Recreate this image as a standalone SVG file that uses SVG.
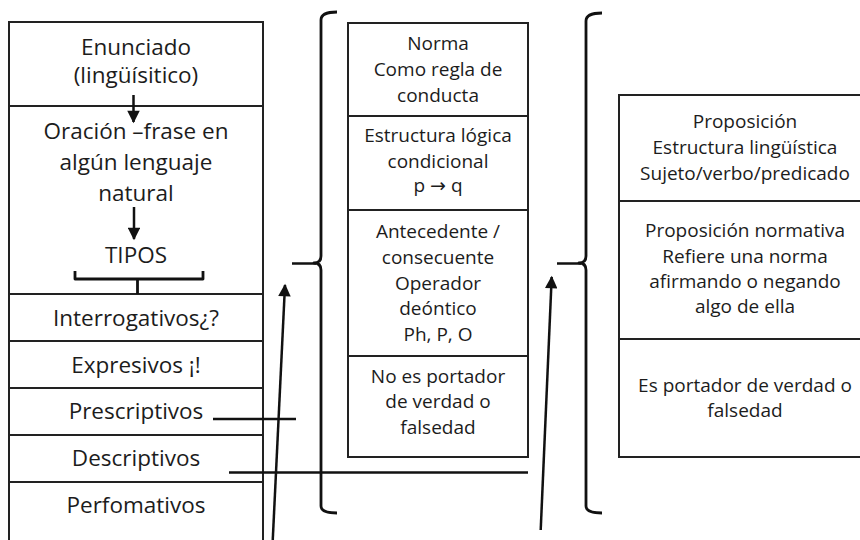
<svg xmlns="http://www.w3.org/2000/svg" width="860" height="540" viewBox="0 0 860 540">
<defs>
<style>
.box{fill:none;stroke:#222;stroke-width:2}
.ln{fill:none;stroke:#111;stroke-width:2.5}
.br{fill:none;stroke:#111;stroke-width:2.8;stroke-linejoin:round}
text{font-family:"Open Sans","Liberation Sans",sans-serif;fill:#1c1c1c;text-anchor:middle}
.l{font-size:22.5px}
.m{font-size:19px}
.arw{font-family:"DejaVu Sans",sans-serif}
</style>
<marker id="ah" viewBox="0 0 10 10" refX="9" refY="5" markerWidth="5.5" markerHeight="5" orient="auto" markerUnits="strokeWidth">
<path d="M0,0 L10,5 L0,10 z" fill="#111"/>
</marker>
</defs>
<rect width="860" height="540" fill="#fff"/>

<g id="left-column">
<path class="box" d="M9,545 V22 H263 V545"/>
<g id="enunciado">
<text class="l" x="136" y="55">Enunciado</text>
<text class="l" x="136" y="83">(lingüísitico)</text>
</g>
<path class="box" d="M9,106 H263"/>
<g id="oracion">
<text class="l" x="136" y="139">Oración –frase en</text>
<text class="l" x="136" y="170">algún lenguaje</text>
<text class="l" x="136" y="201">natural</text>
<text class="l" x="136" y="263">TIPOS</text>
</g>
<path class="box" d="M9,294 H263"/>
<g id="interrogativos"><text class="l" x="136" y="326">Interrogativos¿?</text></g>
<path class="box" d="M9,341 H263"/>
<g id="expresivos"><text class="l" x="136" y="373">Expresivos ¡!</text></g>
<path class="box" d="M9,388 H263"/>
<g id="prescriptivos"><text class="l" x="136" y="419">Prescriptivos</text></g>
<path class="box" d="M9,435 H263"/>
<g id="descriptivos"><text class="l" x="136" y="466">Descriptivos</text></g>
<path class="box" d="M9,482 H263"/>
<g id="perfomativos"><text class="l" x="136" y="513">Perfomativos</text></g>
</g>

<g id="middle-column">
<g id="norma">
<rect class="box" x="348" y="23" width="180" height="93"/>
<text class="m" x="438" y="50">Norma</text>
<text class="m" x="438" y="76">Como regla de</text>
<text class="m" x="438" y="102">conducta</text>
</g>
<g id="estructura">
<rect class="box" x="348" y="116" width="180" height="94"/>
<text class="m" x="438" y="142">Estructura lógica</text>
<text class="m" x="438" y="168">condicional</text>
<text class="m" x="438" y="192">p <tspan class="arw">→</tspan> q</text>
</g>
<g id="antecedente">
<rect class="box" x="348" y="210" width="180" height="146"/>
<text class="m" x="438" y="238">Antecedente /</text>
<text class="m" x="438" y="264">consecuente</text>
<text class="m" x="438" y="290">Operador</text>
<text class="m" x="438" y="315">deóntico</text>
<text class="m" x="438" y="341">Ph, P, O</text>
</g>
<g id="no-portador">
<rect class="box" x="348" y="356" width="180" height="101"/>
<text class="m" x="438" y="383">No es portador</text>
<text class="m" x="438" y="408">de verdad o</text>
<text class="m" x="438" y="434">falsedad</text>
</g>
</g>

<g id="right-column">
<g id="proposicion">
<path class="box" d="M870,95 H619 V201 H870"/>
<text class="m" x="745" y="128">Proposición</text>
<text class="m" x="745" y="154">Estructura lingüística</text>
<text class="m" x="745" y="180">Sujeto/verbo/predicado</text>
</g>
<g id="proposicion-normativa">
<path class="box" d="M619,201 V339 H870"/>
<text class="m" x="745" y="237">Proposición normativa</text>
<text class="m" x="745" y="263">Refiere una norma</text>
<text class="m" x="745" y="288">afirmando o negando</text>
<text class="m" x="745" y="313">algo de ella</text>
</g>
<g id="es-portador">
<path class="box" d="M619,339 V457 H870"/>
<text class="m" x="745" y="392">Es portador de verdad o</text>
<text class="m" x="745" y="417">falsedad</text>
</g>
</g>

<g id="connectors">
<line class="ln" x1="133.5" y1="95" x2="133.5" y2="122" marker-end="url(#ah)"/>
<line class="ln" x1="134" y1="207" x2="134" y2="239" marker-end="url(#ah)"/>
<path class="br" d="M75,271 V279 H203 V271 M137.5,279 V294"/>
<path class="br" d="M337,12 Q321,12 321,20 V256 Q321,263 314,263 Q321,263 321,270 V506 Q321,513 337,513"/>
<line class="ln" x1="292" y1="263.5" x2="316" y2="263.5"/>
<path class="br" d="M602,13 Q586,13 586,21 V256 Q586,263 579,263 Q586,263 586,270 V506 Q586,513 602,513"/>
<line class="ln" x1="557" y1="263.5" x2="581" y2="263.5"/>
<line class="ln" x1="213" y1="419" x2="296" y2="419"/>
<line class="ln" x1="229" y1="472.5" x2="528" y2="472.5"/>
<line class="ln" x1="272.7" y1="541" x2="285" y2="285" marker-end="url(#ah)"/>
<line class="ln" x1="540.7" y1="530" x2="551.7" y2="277" marker-end="url(#ah)"/>
</g>
</svg>
